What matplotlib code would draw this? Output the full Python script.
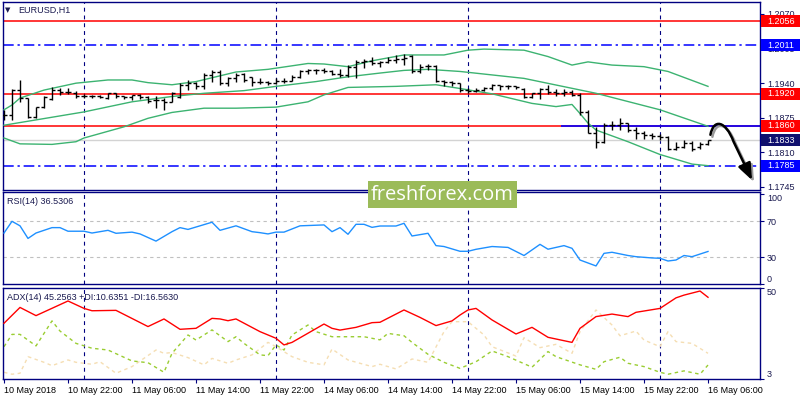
import numpy as np
import matplotlib
matplotlib.use("Agg")
import matplotlib.pyplot as plt
from matplotlib.patches import Rectangle, FancyArrowPatch
from matplotlib.path import Path
import matplotlib.transforms as mtransforms

plt.rcParams['font.family'] = ['Liberation Sans', 'DejaVu Sans']

# EURUSD H1, bar 0 = 10 May 2018 14:00
opens = [1.1880, 1.1880, 1.1927, 1.1912, 1.1876, 1.1895, 1.1910, 1.1927, 1.1923, 1.1922,
         1.1915, 1.1915, 1.1916, 1.1912, 1.1922, 1.1916, 1.1914, 1.1918, 1.1914, 1.1908,
         1.1908, 1.1905, 1.1914, 1.1937, 1.1941, 1.1934, 1.1955, 1.1961, 1.1940, 1.1950,
         1.1957, 1.1951, 1.1943, 1.1942, 1.1941, 1.1944, 1.1945, 1.1951, 1.1962, 1.1964,
         1.1965, 1.1963, 1.1957, 1.1955, 1.1970, 1.1980, 1.1981, 1.1978, 1.1980, 1.1983,
         1.1985, 1.1991, 1.1962, 1.1972, 1.1972, 1.1944, 1.1942, 1.1940, 1.1927, 1.1925,
         1.1927, 1.1931, 1.1936, 1.1935, 1.1934, 1.1929, 1.1914, 1.1921, 1.1929, 1.1923,
         1.1921, 1.1923, 1.1918, 1.1886, 1.1847, 1.1829, 1.1861, 1.1861, 1.1865, 1.1852,
         1.1846, 1.1843, 1.1841, 1.1839, 1.1816, 1.1820, 1.1827, 1.1820, 1.1825]
highs = [1.1890, 1.1929, 1.1946, 1.1912, 1.1896, 1.1915, 1.1932, 1.1931, 1.1931, 1.1925,
         1.1919, 1.1918, 1.1918, 1.1922, 1.1922, 1.1916, 1.1918, 1.1920, 1.1916, 1.1915,
         1.1912, 1.1924, 1.1940, 1.1946, 1.1943, 1.1959, 1.1965, 1.1965, 1.1952, 1.1959,
         1.1959, 1.1952, 1.1949, 1.1945, 1.1949, 1.1949, 1.1955, 1.1964, 1.1967, 1.1967,
         1.1968, 1.1964, 1.1966, 1.1974, 1.1984, 1.1985, 1.1990, 1.1982, 1.1990, 1.1993,
         1.1995, 1.1993, 1.1976, 1.1976, 1.1974, 1.1946, 1.1945, 1.1940, 1.1930, 1.1930,
         1.1933, 1.1938, 1.1937, 1.1937, 1.1935, 1.1930, 1.1922, 1.1930, 1.1937, 1.1929,
         1.1929, 1.1927, 1.1921, 1.1890, 1.1858, 1.1865, 1.1868, 1.1874, 1.1865, 1.1858,
         1.1851, 1.1846, 1.1844, 1.1840, 1.1830, 1.1833, 1.1831, 1.1830, 1.1833]
lows = [1.1871, 1.1871, 1.1905, 1.1874, 1.1874, 1.1893, 1.1908, 1.1918, 1.1920, 1.1912,
        1.1912, 1.1913, 1.1912, 1.1910, 1.1913, 1.1910, 1.1908, 1.1910, 1.1903, 1.1894,
        1.1890, 1.1905, 1.1912, 1.1927, 1.1929, 1.1929, 1.1943, 1.1937, 1.1934, 1.1943,
        1.1943, 1.1934, 1.1939, 1.1937, 1.1938, 1.1940, 1.1945, 1.1949, 1.1957, 1.1957,
        1.1959, 1.1955, 1.1951, 1.1951, 1.1950, 1.1968, 1.1974, 1.1971, 1.1977, 1.1977,
        1.1974, 1.1960, 1.1960, 1.1965, 1.1943, 1.1935, 1.1935, 1.1924, 1.1921, 1.1924,
        1.1926, 1.1927, 1.1927, 1.1929, 1.1929, 1.1912, 1.1912, 1.1910, 1.1919, 1.1915,
        1.1916, 1.1915, 1.1880, 1.1846, 1.1818, 1.1827, 1.1852, 1.1852, 1.1849, 1.1836,
        1.1836, 1.1836, 1.1834, 1.1814, 1.1814, 1.1819, 1.1813, 1.1817, 1.1823]
closes = [1.1880, 1.1927, 1.1912, 1.1876, 1.1895, 1.1914, 1.1927, 1.1923, 1.1923, 1.1915,
          1.1915, 1.1916, 1.1914, 1.1922, 1.1916, 1.1914, 1.1918, 1.1914, 1.1906, 1.1908,
          1.1905, 1.1922, 1.1937, 1.1941, 1.1934, 1.1955, 1.1961, 1.1940, 1.1950, 1.1955,
          1.1946, 1.1943, 1.1942, 1.1941, 1.1944, 1.1945, 1.1952, 1.1962, 1.1964, 1.1965,
          1.1963, 1.1957, 1.1955, 1.1970, 1.1980, 1.1981, 1.1978, 1.1980, 1.1983, 1.1985,
          1.1987, 1.1962, 1.1970, 1.1972, 1.1945, 1.1942, 1.1940, 1.1927, 1.1925, 1.1927,
          1.1931, 1.1937, 1.1935, 1.1934, 1.1933, 1.1914, 1.1921, 1.1929, 1.1923, 1.1921,
          1.1923, 1.1918, 1.1886, 1.1847, 1.1830, 1.1861, 1.1861, 1.1865, 1.1852, 1.1846,
          1.1843, 1.1841, 1.1839, 1.1816, 1.1820, 1.1827, 1.1816, 1.1825, 1.1833]

# Bollinger bands (at these bars)
bb_up_bar = [0, 1, 2, 5, 9, 13, 16, 18, 21, 24, 29, 33, 38, 40, 43, 46, 50, 55, 58, 60,
             65, 68, 71, 73, 76, 80, 83, 88]
bb_up = [1.1890, 1.1899, 1.1912, 1.1927, 1.1940, 1.1946, 1.1946, 1.1941, 1.1937, 1.1943,
         1.1961, 1.1966, 1.1977, 1.1976, 1.1971, 1.1982, 1.1993, 1.1993, 1.2002, 1.2004,
         1.2002, 1.1990, 1.1974, 1.1980, 1.1974, 1.1971, 1.1962, 1.1934]
bb_mid_bar = [0, 4, 10, 16, 21, 25, 30, 34, 39, 43, 47, 50, 53, 57, 65, 74, 82, 88]
bb_mid = [1.1861, 1.1871, 1.1886, 1.1905, 1.1915, 1.1921, 1.1926, 1.1934, 1.1943, 1.1952,
          1.1959, 1.1964, 1.1966, 1.1962, 1.1949, 1.1921, 1.1890, 1.1859]
bb_lo_bar = [0, 2, 6, 9, 10, 15, 18, 21, 25, 29, 34, 38, 40, 43, 49, 54, 57, 61, 66, 69,
             71, 72, 73, 74, 78, 82, 86, 88]
bb_lo = [1.1837, 1.1826, 1.1825, 1.1830, 1.1837, 1.1858, 1.1874, 1.1885, 1.1893, 1.1893,
         1.1895, 1.1905, 1.1918, 1.1932, 1.1934, 1.1937, 1.1930, 1.1920, 1.1902, 1.1896,
         1.1900, 1.1883, 1.1865, 1.1852, 1.1830, 1.1806, 1.1788, 1.1785]

# RSI(14)
rsi_bar = [0, 1, 2, 3, 4, 6, 7, 8, 10, 11, 13, 14, 16, 17, 19, 21, 22, 23, 26, 27, 29,
           31, 32, 33, 34, 35, 37, 40, 41, 42, 43, 44, 45, 46, 47, 49, 50, 51, 53, 54,
           55, 57, 58, 59, 61, 63, 65, 67, 68, 70, 71, 72, 74, 75, 76, 78, 79, 81, 82,
           83, 84, 85, 86, 88]
rsi_val = [57, 70, 65, 51, 57, 63, 63, 59, 59, 57, 60, 56.7, 58, 56, 48, 58.5, 63, 61, 69,
           60, 65, 58.5, 57.4, 56, 58, 58, 65, 66, 58.5, 63, 55.6, 66.7, 66.7, 63.3, 64.8,
           64.8, 67.8, 53.7, 56.7, 43, 42, 36.7, 36.7, 38.9, 42, 41, 32, 44.4, 39, 43, 40,
           27, 20.4, 34.4, 35.6, 32, 30.7, 29.3, 28.9, 25.9, 27, 32, 30.7, 36.5]

# ADX(14), +DI, -DI
adx_bar = [0, 2, 4, 8, 10, 11, 14, 18, 20, 22, 24, 26, 27, 28, 29, 32, 34, 35, 36, 40,
           41, 42, 44, 46, 47, 50, 52, 54, 56, 57, 58, 59, 61, 64, 66, 68, 71, 72, 74,
           76, 78, 79, 82, 84, 85, 87, 88]
adx_val = [32.0, 40.1, 35.9, 43.4, 39.6, 38.4, 38.6, 30.3, 34.2, 28.9, 29.4, 34.5, 34.2,
           33.3, 34.2, 27.7, 24.3, 20.9, 22.2, 31.6, 29.4, 28.5, 29.9, 32.3, 32.5, 38.8,
           35.0, 30.8, 33.2, 36.2, 38.8, 39.6, 33.7, 26.5, 29.9, 24.8, 22.2, 29.4, 35.4,
           36.7, 35.4, 37.6, 39.6, 45.0, 46.4, 48.5, 45.3]
pdi_bar = [0, 1, 2, 4, 6, 7, 9, 11, 13, 16, 18, 20, 21, 23, 24, 26, 28, 29, 30, 32, 33,
           34, 35, 36, 38, 39, 41, 43, 45, 47, 48, 50, 51, 53, 55, 57, 59, 61, 63, 66,
           68, 69, 72, 74, 75, 77, 78, 80, 82, 83, 85, 87, 88]
pdi_val = [20.0, 26.3, 26.3, 20.4, 33.2, 28.0, 21.7, 19.2, 18.3, 12.7, 11.8, 6.9, 16.6,
           26.0, 23.4, 28.6, 22.6, 25.1, 21.7, 15.8, 15.4, 20.9, 18.3, 26.0, 31.1, 27.7,
           25.1, 25.1, 25.1, 23.5, 26.8, 25.6, 22.2, 16.1, 12.0, 8.9, 12.3, 17.8, 14.9,
           9.5, 17.5, 14.9, 10.7, 8.4, 12.3, 14.6, 11.5, 9.8, 6.9, 5.9, 7.6, 5.9, 10.6]
mdi_bar = [0, 1, 2, 3, 5, 6, 8, 9, 11, 12, 14, 16, 19, 20, 21, 23, 25, 26, 28, 29, 31,
           33, 34, 36, 38, 40, 41, 43, 46, 47, 49, 51, 53, 55, 56, 58, 60, 61, 64, 65,
           67, 69, 71, 72, 74, 76, 77, 79, 80, 82, 83, 84, 86, 88]
mdi_val = [6.9, 5.9, 6.4, 14.9, 12.0, 10.3, 13.2, 12.0, 11.0, 12.3, 6.4, 9.8, 18.3, 16.6,
           17.0, 14.4, 10.7, 14.0, 11.5, 13.2, 15.8, 22.2, 20.0, 14.9, 12.0, 10.7, 18.8,
           13.2, 9.8, 11.0, 8.6, 13.7, 12.0, 27.7, 32.8, 32.8, 26.0, 20.0, 15.2, 24.6,
           19.5, 21.2, 16.6, 27.7, 38.8, 31.1, 25.6, 28.0, 23.4, 20.0, 27.7, 22.6, 21.7,
           16.6]

time_labels = ['10 May 2018', '10 May 22:00', '11 May 06:00', '11 May 14:00', '11 May 22:00',
               '14 May 06:00', '14 May 14:00', '14 May 22:00', '15 May 06:00', '15 May 14:00',
               '15 May 22:00', '16 May 06:00']
day_start_bars = [10, 34, 58, 82]
price_ticks = [1.2070, 1.2005, 1.1940, 1.1875, 1.1810, 1.1745]

red_levels = [1.2056, 1.1920, 1.1860]
blue_levels = [1.2011, 1.1785]
bid_price = 1.1833
resist_start_bar = 69.6
level_tags = [(1.2056, '#ff0000'), (1.2011, '#0000ff'), (1.1920, '#ff0000'),
              (1.1860, '#ff0000'), (1.1833, '#10106e'), (1.1785, '#0000ff')]

NAVY = '#000080'
TXT = '#1a1a50'

fig = plt.figure(figsize=(8, 4), dpi=100)
fig.patch.set_facecolor('white')

ax1 = fig.add_axes([3 / 800, 1 - 190 / 400, 757 / 800, 188 / 400])
ax2 = fig.add_axes([3 / 800, 1 - 284.3 / 400, 757 / 800, 92.3 / 400])
ax3 = fig.add_axes([3 / 800, 1 - 379.3 / 400, 757 / 800, 91.6 / 400])

for ax in (ax1, ax2, ax3):
    ax.set_xlim(-0.125, 94.5)
    for s in ax.spines.values():
        s.set_color(NAVY)
        s.set_linewidth(1.0)
    for b in day_start_bars:
        ax.axvline(b, color=NAVY, lw=0.8, ls=(0, (3.5, 3.5)), zorder=1)
    ax.yaxis.tick_right()
    ax.tick_params(axis='y', length=3, width=0.8, pad=2, labelsize=6.5,
                   color=NAVY, labelcolor=TXT)
    ax.tick_params(axis='x', bottom=False, labelbottom=False)

# ---- main price panel
ax1.set_ylim(1.17393, 1.20925)
ax1.set_yticks(price_ticks)
ax1.set_yticklabels([f'{p:.4f}' for p in price_ticks])

for lv in red_levels:
    ax1.axhline(lv, color='#ff0000', lw=1.1, zorder=2)
for lv in blue_levels:
    ax1.axhline(lv, color='#0000ff', lw=1.1, ls=(0, (7, 2.5, 1.5, 2.5)), zorder=2)
ax1.axhline(bid_price, color='#d3d3d3', lw=1.0, zorder=1.5)
ax1.hlines(1.1860, resist_start_bar, 94.5, color='#0000ff', lw=1.2, zorder=2.2)

ax1.plot(bb_up_bar, bb_up, color='#3cb371', lw=1.0, zorder=3)
ax1.plot(bb_mid_bar, bb_mid, color='#3cb371', lw=1.0, zorder=3)
ax1.plot(bb_lo_bar, bb_lo, color='#3cb371', lw=1.0, zorder=3)

xb = np.arange(len(closes))
ax1.vlines(xb, lows, highs, color='black', lw=1.0, zorder=4)
ax1.hlines(opens, xb - 0.38, xb, color='black', lw=1.0, zorder=4)
ax1.hlines(closes, xb, xb + 0.38, color='black', lw=1.0, zorder=4)

# level tags on the price scale (they cover the scale labels, as in MT4)
ytr = ax1.get_yaxis_transform()
tag_h = 12 * (1.20925 - 1.17393) / 188
tag_w = 40 / 757
for lv, col in level_tags:
    ax1.add_patch(Rectangle((1.0015, lv - tag_h / 2), tag_w, tag_h, transform=ytr,
                            facecolor=col, edgecolor='none', clip_on=False, zorder=6))
    ax1.text(1.0015 + tag_w / 2, lv, f'{lv:.4f}', transform=ytr, ha='center',
             va='center', color='white', fontsize=6.5, zorder=7, clip_on=False)

# forecast arrow
arrow_pts = [(88.3, 1.1843), (88.7, 1.1874), (90.2, 1.1870), (91.2, 1.1830), (93.5, 1.1758)]
arrow_codes = [Path.MOVETO, Path.CURVE4, Path.CURVE4, Path.CURVE4, Path.LINETO]
shadow_tr = mtransforms.offset_copy(ax1.transData, fig=fig, x=2, y=-2, units='dots')
for tr, col, z in ((shadow_tr, '#9a9a9a', 7.5), (ax1.transData, 'black', 8)):
    arr = FancyArrowPatch(path=Path(arrow_pts, arrow_codes), transform=tr,
                          arrowstyle='-|>,head_length=10,head_width=4',
                          mutation_scale=1, lw=1.8, color=col, clip_on=False, zorder=z)
    ax1.add_patch(arr)

# ---- RSI panel
ax2.set_ylim(0, 102.6)
ax2.axhline(70, color='#c0c0c0', lw=0.8, ls=(0, (3, 3)))
ax2.axhline(30, color='#c0c0c0', lw=0.8, ls=(0, (3, 3)))
ax2.plot(rsi_bar, rsi_val, color='#1e90ff', lw=1.0, zorder=3)
ax2.set_yticks([0, 30, 70, 100])
ax2.set_yticklabels(['0', '30', '70', '100'])
rl = ax2.get_yticklabels()
rl[0].set_va('bottom')
rl[3].set_va('top')

# ---- ADX panel
ax3.set_ylim(3.3, 50.2)
ax3.plot(mdi_bar, mdi_val, color='#f5deb3', lw=1.0, ls=(0, (2.5, 2.5)), zorder=2)
ax3.plot(pdi_bar, pdi_val, color='#9acd32', lw=1.0, ls=(0, (2.5, 2.5)), zorder=2.5)
ax3.plot(adx_bar, adx_val, color='#ff0000', lw=1.0, zorder=3)
ax3.set_yticks([3.3, 50.2])
ax3.set_yticklabels(['3', '50'])
al = ax3.get_yticklabels()
al[0].set_va('bottom')
al[1].set_va('top')

ax3.tick_params(axis='x', bottom=True, labelbottom=True, length=3, width=0.8,
                color=NAVY, pad=2, labelsize=6.5, labelcolor='black')
ax3.set_xticks(xb[::8])
ax3.set_xticklabels(time_labels)
for lab in ax3.get_xticklabels():
    lab.set_ha('left')

# ---- captions
fig.text(8 / 800, 1 - 10 / 400, '\u25bc', fontsize=5, color=TXT, va='center',
         ha='center', family='DejaVu Sans')
fig.text(18 / 800, 1 - 10 / 400, 'EURUSD,H1', fontsize=6.5, color=TXT, va='center')
fig.text(7 / 800, 1 - 202 / 400, 'RSI(14) 36.5306', fontsize=6.5, color=TXT, va='center')
fig.text(7 / 800, 1 - 297 / 400, 'ADX(14) 45.2563 +DI:10.6351 -DI:16.5630', fontsize=6.5,
         color=TXT, va='center')

# watermark
fig.patches.append(Rectangle((368 / 800, 1 - 208 / 400), 149 / 800, 27 / 400,
                             transform=fig.transFigure, facecolor='#9bbb59',
                             edgecolor='none', zorder=10))
fig.text(442.5 / 800, 1 - 195 / 400, 'freshforex.com', fontsize=14.5, color='white',
         ha='center', va='center', family='Open Sans', zorder=11)

fig.savefig('out.png', dpi=100, facecolor='white')
